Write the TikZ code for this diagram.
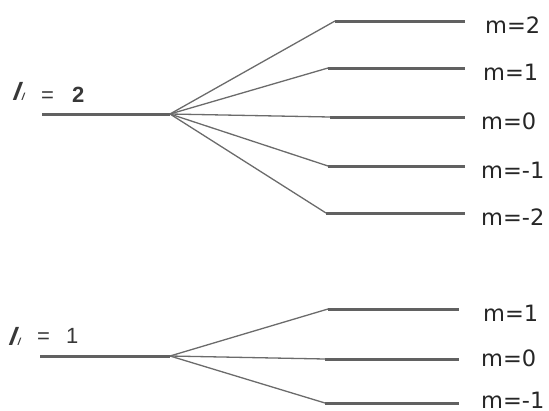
\documentclass[tikz,border=0pt]{standalone}
\usepackage{fontspec}
\setmainfont{DejaVu Sans}
\newfontfamily\lsans{Liberation Sans}
\newfontfamily\lslant[FakeSlant=0.38]{Liberation Sans}
\newcommand{\ellsym}{{\lslant\fontsize{25}{28}\selectfont\textbf{l}\hspace{2pt}\fontsize{14}{16}\selectfont ı}}
\begin{document}
\begin{tikzpicture}[x=1pt,y=-1pt,
  level/.style={draw=black!62, line width=3pt},
  fan/.style={draw=black!58, line width=1.3pt},
  mlab/.style={anchor=west, inner sep=0pt, font=\fontsize{22.5}{26}\selectfont, text=black!85},
  llab/.style={anchor=base west, inner sep=0pt, font=\lsans\fontsize{22}{26}\selectfont, text=black!78}]
\useasboundingbox (0,0) rectangle (549,410);
% upper
\coordinate (ua) at (42,114);
\coordinate (uf) at (170,114);
\draw[level] (ua) -- (uf);
\node[llab] (lu) at (11,102) {\makebox[30pt][l]{\raisebox{1.5pt}{\ellsym}}\makebox[31pt][l]{=}\textbf{2}};
\foreach \n/\y/\s/\x/\lab in {u2/21/335/485/m=2, u1/68/328/483/m=1, u0/117/330/481/m=0, um1/166/328/481/m=-1, um2/213/326/481/m=-2}{
  \coordinate (\n s) at (\s,\y);
  \coordinate (\n e) at (465,\y);
  \draw[fan] (uf) -- (\n s);
  \draw[level] (\n s) -- (\n e);
  \node[mlab] (\n l) at (\x,\y+4) {\lab};
}
% lower
\coordinate (la) at (40,356);
\coordinate (lf) at (170,356);
\draw[level] (la) -- (lf);
\node[llab] (ll) at (7,343) {\makebox[30pt][l]{\raisebox{-2pt}{\ellsym}}\makebox[29pt][l]{=}1};
\foreach \n/\y/\s/\x/\ty/\lab in {l1/309/328/483/313/m=1, l0/359/325/481/358/m=0, lm1/403/325/481/400/m=-1}{
  \coordinate (\n s) at (\s,\y);
  \coordinate (\n e) at (459,\y);
  \draw[fan] (lf) -- (\n s);
  \draw[level] (\n s) -- (\n e);
  \node[mlab] (\n l) at (\x,\ty) {\lab};
}
\end{tikzpicture}
\end{document}
